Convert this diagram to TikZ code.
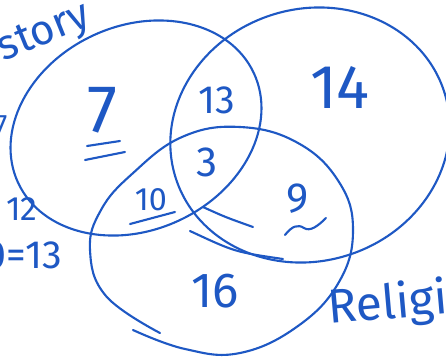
\documentclass[tikz,border=0pt]{standalone}
\usepackage{fontspec}
\setmainfont{Fira Sans}
\usepackage{xcolor}
\usepackage{tikz}
\definecolor{inkblue}{RGB}{30,88,196}

\begin{document}
\begin{tikzpicture}[x=0.25mm, y=-0.25mm]
  \tikzset{setline/.style={draw=inkblue,line width=1.5pt,line cap=round,line join=round},
           num/.style={text=inkblue,inner sep=0pt,font=\fontsize{#1}{#1}\selectfont}}
  \useasboundingbox (0,0) rectangle (446,357);
  \fill[white] (0,0) rectangle (446,357);
  \draw[setline, rotate around={25:(136,128)}] (136,128) ellipse [x radius=130, y radius=102];
  \draw[setline, rotate around={18:(310,135)}] (310,135) ellipse [x radius=141, y radius=126];
  \draw[setline] plot[smooth, tension=0.7] coordinates {(133,330) (185,349) (240,353)
    (298,326) (339,282) (353,230) (339,182) (298,143) (240,127) (182,137)
    (132,174) (101,210) (90,250) (106,296) (160,333)};
  \draw[setline] (203,207) .. controls (225,217) .. (253,227);
  \draw[setline] (190,231) .. controls (235,252) .. (283,259);
  \node[num=48pt] (onlyhist) at (102,110) {7};
  \draw[setline] (87,146) -- (120,141);
  \draw[setline] (85,160) -- (125,152);
  \node[num=28pt] (histb) at (217,100) {13};
  \node[num=30pt] (all) at (207,162) {3};
  \node[num=44pt] (onlyb) at (340,87) {14};
  \node[num=23pt] (histrel) at (151,200) {10};
  \draw[setline] (130,224) -- (175,212);
  \node[num=30pt] (brel) at (298,199) {9};
  \draw[setline] (285,235) .. controls (292,226) and (298,224) .. (304,228)
                 .. controls (310,232) and (318,226) .. (326,218);
  \node[num=35pt] (onlyrel) at (215,291) {16};
  \node[num=24pt] (twelve) at (22,209) {12};
  \node[num=28pt, anchor=east] (total) at (62,255) {0=13};
  \node[num=20pt] (seven) at (1,125) {7};
  \node[num=30pt, anchor=base east, rotate=22] (hist) at (93,25) {History};
  \node[num=34pt, anchor=base west, rotate=5] (relig) at (329,324) {Religion};
\end{tikzpicture}
\end{document}
